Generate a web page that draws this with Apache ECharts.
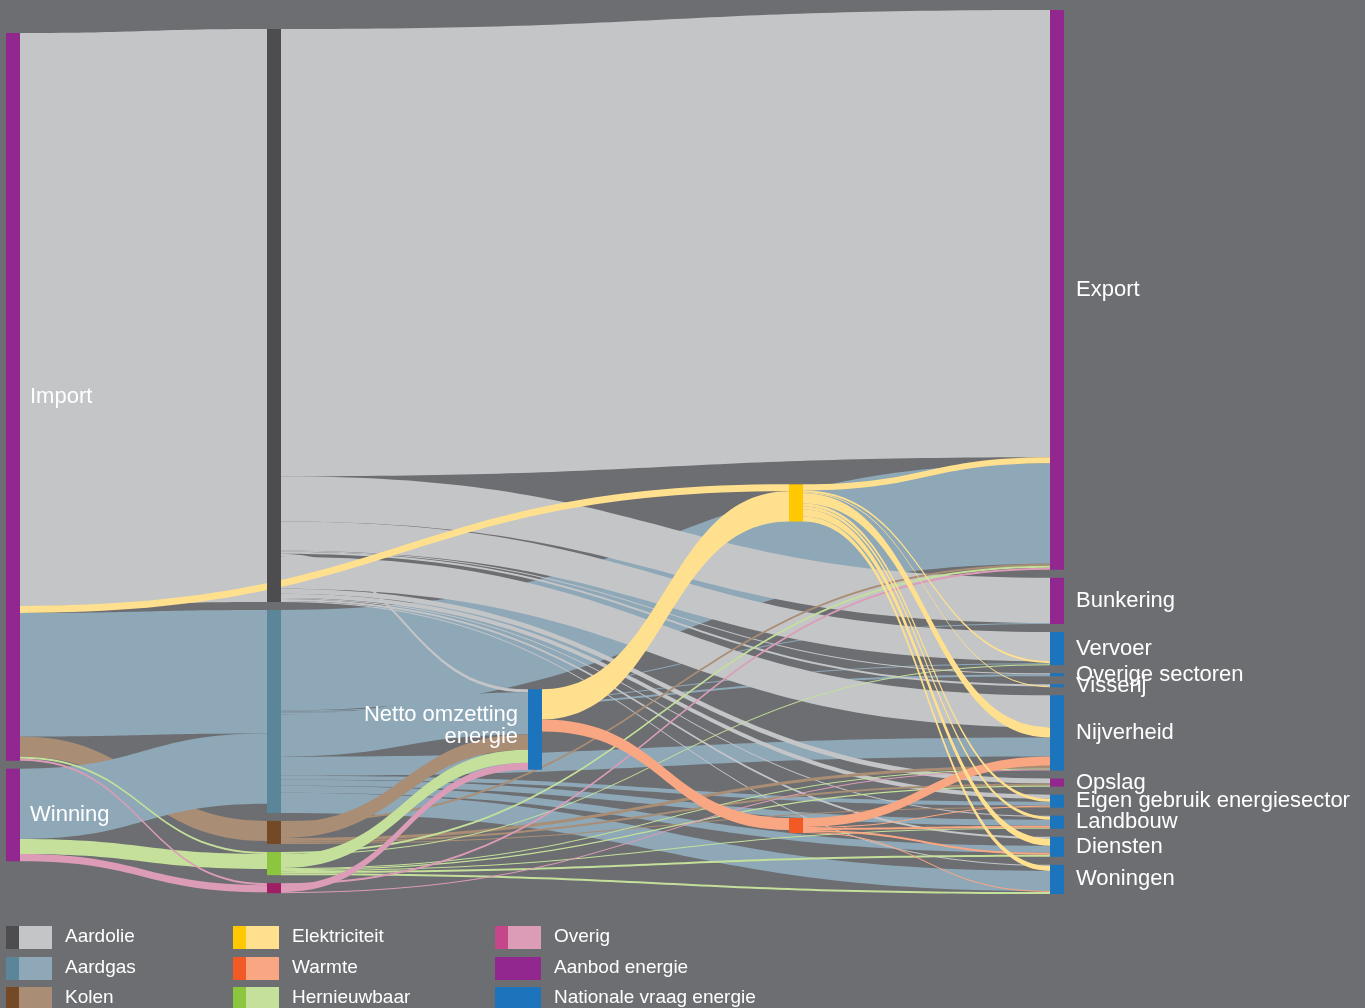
<!DOCTYPE html>
<html>
<head>
<meta charset="utf-8">
<script src="https://cdn.jsdelivr.net/npm/echarts@6/dist/echarts.min.js"></script>
<style>
  html, body { margin: 0; padding: 0; background: #6d6e71; }
  #chart { width: 1365px; height: 1008px; }
</style>
</head>
<body>
<div id="chart"></div>
<script>
// ---- Nodes (in column order, top to bottom) ----
const supplyNodes = ['Import', 'Winning'];
const carrierNodes = ['Aardolie', 'Aardgas', 'Kolen', 'Hernieuwbaar', 'Overig'];
const conversionNodes = ['Netto omzetting energie'];
const secondaryNodes = ['Elektriciteit', 'Warmte'];
const useNodes = ['Export', 'Bunkering', 'Vervoer', 'Overige sectoren', 'Visserij', 'Nijverheid',
                  'Opslag', 'Eigen gebruik energiesector', 'Landbouw', 'Diensten', 'Woningen'];
const aanbodUse = ['Export', 'Bunkering', 'Opslag'];

// ---- Flows (PJ) ----
const fromImport = [['Aardolie', 5700], ['Elektriciteit', 70], ['Aardgas', 1230], ['Kolen', 200], ['Hernieuwbaar', 20], ['Overig', 20]];
const fromWinning = [['Aardgas', 700], ['Hernieuwbaar', 150], ['Overig', 70]];
const fromAardolie = [['Export', 4450], ['Bunkering', 450], ['Vervoer', 290], ['Overige sectoren', 10], ['Visserij', 20],
  ['Netto omzetting energie', 30], ['Nijverheid', 320], ['Opslag', 50], ['Eigen gebruik energiesector', 40],
  ['Landbouw', 10], ['Diensten', 20], ['Woningen', 10]];
const fromAardgas = [['Export', 1000], ['Bunkering', 10], ['Vervoer', 10], ['Overige sectoren', 20],
  ['Netto omzetting energie', 420], ['Nijverheid', 190], ['Eigen gebruik energiesector', 40],
  ['Landbouw', 60], ['Diensten', 70], ['Woningen', 200]];
const fromKolen = [['Netto omzetting energie', 150], ['Export', 20], ['Nijverheid', 30], ['Opslag', 20], ['Eigen gebruik energiesector', 10]];
const fromHernieuwbaar = [['Netto omzetting energie', 130], ['Export', 20], ['Vervoer', 10], ['Nijverheid', 10],
  ['Opslag', 10], ['Landbouw', 10], ['Diensten', 20], ['Woningen', 20]];
const fromOverig = [['Netto omzetting energie', 70], ['Export', 20], ['Nijverheid', 10]];
const fromOmzetting = [['Elektriciteit', 300], ['Warmte', 120]];
const fromElektriciteit = [['Export', 60], ['Vervoer', 20], ['Visserij', 10], ['Nijverheid', 100],
  ['Eigen gebruik energiesector', 30], ['Landbouw', 30], ['Diensten', 70], ['Woningen', 50]];
const fromWarmte = [['Nijverheid', 90], ['Eigen gebruik energiesector', 10], ['Landbouw', 20], ['Diensten', 20], ['Woningen', 10]];

// ---- Legend ----
const legendNames = ['Aardolie', 'Aardgas', 'Kolen', 'Elektriciteit', 'Warmte', 'Hernieuwbaar', 'Overig', 'Aanbod energie', 'Nationale vraag energie'];

// ---- Layout: invisible padding blocks that reproduce the vertical placement of the columns ----
const layoutPadding = [
  { id: 'pad-col0', depth: 0, before: 'Import', amount: 150 },
  { id: 'pad-col1', depth: 1, before: 'Aardolie', amount: 110 },
  { id: 'pad-col2', depth: 2, before: 'Netto omzetting energie', amount: 6680 },
  { id: 'pad-col3a', depth: 3, before: 'Elektriciteit', amount: 4640 },
  { id: 'pad-col3b', depth: 3, before: 'Warmte', amount: 2790 }
];

// ---- Styles ----
const BG = '#6d6e71';
const PURPLE = '#92278f';
const BLUE = '#1c75bc';
const carrierDark = {
  'Aardolie': '#4d4d4f', 'Aardgas': '#5b8598', 'Kolen': '#744a26', 'Hernieuwbaar': '#8cc63f',
  'Overig': '#9e1f63', 'Elektriciteit': '#ffc800', 'Warmte': '#f15a24'
};
const carrierLight = {
  'Aardolie': '#c4c5c7', 'Aardgas': '#8ea8b8', 'Kolen': '#a98d74', 'Hernieuwbaar': '#c4e09a',
  'Overig': '#dc9cb8', 'Elektriciteit': '#ffe08e', 'Warmte': '#f9a783'
};
const legendDark = Object.assign({}, carrierDark, { 'Overig': '#c4478a', 'Aanbod energie': PURPLE, 'Nationale vraag energie': BLUE });
const legendLight = Object.assign({}, carrierLight, { 'Aanbod energie': PURPLE, 'Nationale vraag energie': BLUE });

const FONT = '"Liberation Sans", Arial, Helvetica, sans-serif';

// ---- Build nodes ----
const nodes = [];
function pushPadding(name) {
  layoutPadding.filter(p => p.before === name).forEach(p => nodes.push({
    name: p.id, value: p.amount, depth: p.depth,
    itemStyle: { color: 'rgba(0,0,0,0)' }, label: { show: false }, tooltip: { show: false }
  }));
}
supplyNodes.forEach(n => {
  pushPadding(n);
  nodes.push({ name: n, itemStyle: { color: PURPLE }, label: { position: 'right', distance: 10 } });
});
carrierNodes.forEach(n => {
  pushPadding(n);
  nodes.push({ name: n, itemStyle: { color: carrierDark[n] }, label: { show: false } });
});
conversionNodes.forEach(n => {
  pushPadding(n);
  nodes.push({
    name: n, itemStyle: { color: BLUE },
    label: { position: 'left', distance: 10, align: 'right', formatter: 'Netto omzetting\nenergie', lineHeight: 22, offset: [0, -4] }
  });
});
secondaryNodes.forEach(n => {
  pushPadding(n);
  nodes.push({ name: n, itemStyle: { color: carrierDark[n] }, label: { show: false } });
});
useNodes.forEach(n => nodes.push({
  name: n, itemStyle: { color: aanbodUse.indexOf(n) >= 0 ? PURPLE : BLUE },
  label: { position: 'right', distance: 12 }
}));

// ---- Build links ----
const allLinks = [];
function addFlows(source, flows) {
  flows.forEach(([target, value]) => {
    const carrier = carrierLight[source] ? source : target;
    allLinks.push({ source, target, value, carrier, lineStyle: { color: carrierLight[carrier], opacity: 1 } });
  });
}
addFlows('Import', fromImport);
addFlows('Winning', fromWinning);
addFlows('Aardgas', fromAardgas);
addFlows('Aardolie', fromAardolie);
addFlows('Kolen', fromKolen);
addFlows('Hernieuwbaar', fromHernieuwbaar);
addFlows('Overig', fromOverig);
addFlows('Netto omzetting energie', fromOmzetting);
addFlows('Warmte', fromWarmte);
addFlows('Elektriciteit', fromElektriciteit);

// drawing order (later = on top)
const supplyLayer = ['Aardolie', 'Kolen', 'Aardgas', 'Hernieuwbaar', 'Overig'];
const carrierLayer = ['Aardgas', 'Aardolie', 'Kolen', 'Hernieuwbaar', 'Overig', 'Warmte', 'Elektriciteit'];
function layerOf(l) {
  const fromSupply = supplyNodes.indexOf(l.source) >= 0;
  if (fromSupply && l.carrier !== 'Elektriciteit') return supplyLayer.indexOf(l.carrier);
  return 10 + carrierLayer.indexOf(l.carrier);
}
const links = allLinks
  .map((l, i) => ({ l, i }))
  .sort((a, b) => (layerOf(a.l) - layerOf(b.l)) || (a.i - b.i))
  .map(o => ({ source: o.l.source, target: o.l.target, value: o.l.value, lineStyle: o.l.lineStyle }));

// ---- Legend graphics ----
const legendGraphics = [];
const colX = [6, 233, 495];
const rowY = [926, 957, 987];
legendNames.forEach((name, i) => {
  const x = colX[Math.floor(i / 3)];
  const y = rowY[i % 3];
  legendGraphics.push({ type: 'rect', left: x, top: y, shape: { width: 46, height: 23 }, style: { fill: legendLight[name] }, silent: true });
  legendGraphics.push({ type: 'rect', left: x, top: y, shape: { width: 13, height: 23 }, style: { fill: legendDark[name] }, silent: true });
  legendGraphics.push({
    type: 'text', left: x + 59, top: y + 1,
    style: { text: name, fill: '#ffffff', font: '19px ' + FONT, textVerticalAlign: 'top' }, silent: true
  });
});

const chart = echarts.init(document.getElementById('chart'));
chart.setOption({
  backgroundColor: BG,
  animation: false,
  graphic: legendGraphics,
  series: [{
    type: 'sankey',
    left: 6, right: 301, top: 10, bottom: 114,
    nodeWidth: 14,
    nodeGap: 8,
    nodeAlign: 'justify',
    layoutIterations: 0,
    draggable: false,
    emphasis: { disabled: true },
    label: { color: '#ffffff', fontSize: 22, fontFamily: FONT },
    lineStyle: { curveness: 0.5, opacity: 1 },
    itemStyle: { borderWidth: 0 },
    data: nodes,
    links: links
  }]
});
</script>
</body>
</html>
